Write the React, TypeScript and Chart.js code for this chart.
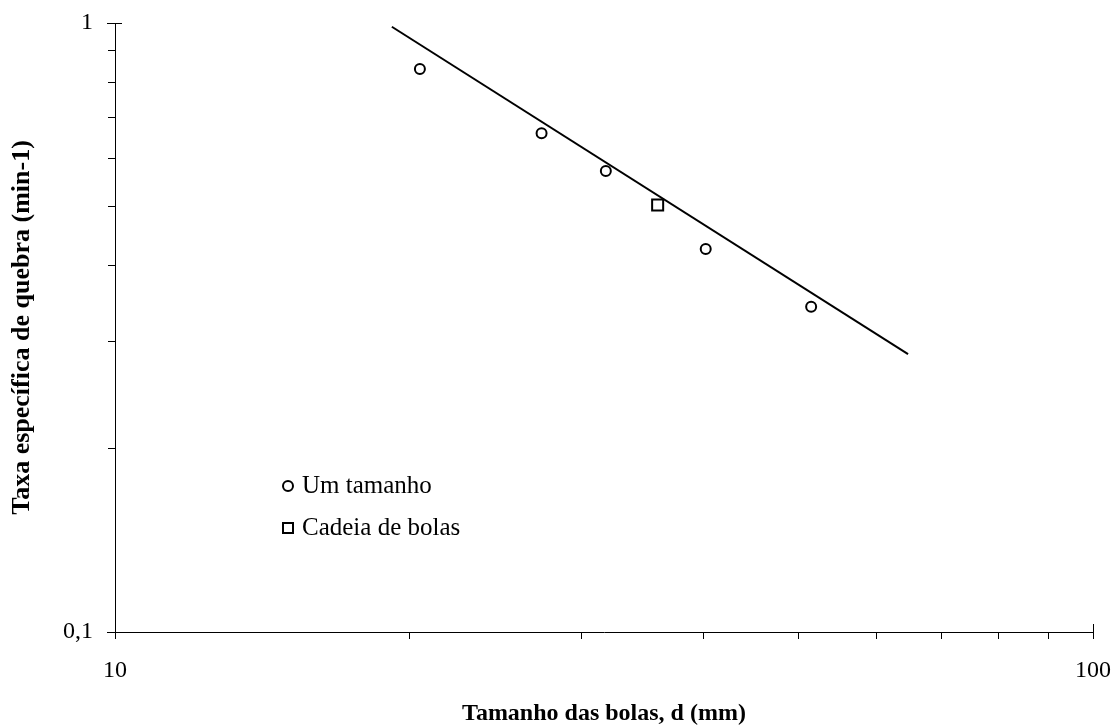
import React, { useEffect, useRef } from "react";
import { Chart, registerables } from "chart.js";

Chart.register(...registerables);

// Data (log-log)
const oneSizeDiameter = [20.5, 27.3, 31.76, 40.18, 51.5];
const oneSizeRate = [0.84, 0.659, 0.5715, 0.4254, 0.342];
const chainDiameter = [35.88];
const chainRate = [0.5027];
const fitDiameter = [19.19, 64.7];
const fitRate = [0.986, 0.286];

const xMin = 10;
const xMax = 100;
const yMin = 0.1;
const yMax = 1;
const xTickValues = [10, 20, 30, 40, 50, 60, 70, 80, 90, 100];
const yTickValues = [0.1, 0.2, 0.3, 0.4, 0.5, 0.6, 0.7, 0.8, 0.9, 1];
const xLabels: Record<string, string> = { "10": "10", "100": "100" };
const yLabels: Record<string, string> = { "0.1": "0,1", "1": "1" };

const seriesNames = ["Um tamanho", "Cadeia de bolas"];
const xTitle = "Tamanho das bolas, d (mm)";
const yTitle = "Taxa específica de quebra (min-1)";

const FONT = "'Liberation Serif', 'Times New Roman', serif";

const majorTicksPlugin = {
  id: "majorTicks",
  afterDraw(chart: any) {
    const { ctx, chartArea, scales } = chart;
    ctx.save();
    ctx.strokeStyle = "#000";
    ctx.lineWidth = 1;
    [xMin, xMax].forEach((v) => {
      const px = Math.round(scales.x.getPixelForValue(v)) + 0.5;
      ctx.beginPath();
      ctx.moveTo(px, chartArea.bottom - 8);
      ctx.lineTo(px, chartArea.bottom + 7);
      ctx.stroke();
    });
    [yMin, yMax].forEach((v) => {
      const py = Math.round(scales.y.getPixelForValue(v)) + 0.5;
      ctx.beginPath();
      ctx.moveTo(chartArea.left - 8, py);
      ctx.lineTo(chartArea.left + 7, py);
      ctx.stroke();
    });
    ctx.restore();
  },
};

const innerLegendPlugin = {
  id: "innerLegend",
  afterDatasetsDraw(chart: any) {
    const { ctx, chartArea } = chart;
    const mx = chartArea.left + 173;
    const y0 = chartArea.top + 463;
    const gap = 42;
    ctx.save();
    ctx.strokeStyle = "#000";
    ctx.fillStyle = "#fff";
    ctx.lineWidth = 2;
    ctx.beginPath();
    ctx.arc(mx, y0, 5, 0, Math.PI * 2);
    ctx.fill();
    ctx.stroke();
    ctx.beginPath();
    ctx.rect(mx - 5, y0 + gap - 5, 10, 10);
    ctx.fill();
    ctx.stroke();
    ctx.fillStyle = "#000";
    ctx.font = `25px ${FONT}`;
    ctx.textBaseline = "middle";
    ctx.textAlign = "left";
    ctx.fillText(seriesNames[0], mx + 14, y0);
    ctx.fillText(seriesNames[1], mx + 14, y0 + gap);
    ctx.restore();
  },
};

const keyOf = (v: any) => String(Math.round(Number(v) * 1000) / 1000);

export default function App() {
  const canvasRef = useRef<HTMLCanvasElement | null>(null);

  useEffect(() => {
    if (!canvasRef.current) return;
    const chart = new Chart(canvasRef.current, {
      type: "scatter",
      data: {
        datasets: [
          {
            label: seriesNames[0],
            data: oneSizeDiameter.map((d, i) => ({ x: d, y: oneSizeRate[i] })),
            pointStyle: "circle",
            pointRadius: 5,
            pointBorderWidth: 2,
            pointBackgroundColor: "#fff",
            pointBorderColor: "#000",
            showLine: false,
          },
          {
            label: seriesNames[1],
            data: chainDiameter.map((d, i) => ({ x: d, y: chainRate[i] })),
            pointStyle: "rect",
            pointRadius: 7.8,
            pointBorderWidth: 2,
            pointBackgroundColor: "#fff",
            pointBorderColor: "#000",
            showLine: false,
          },
          {
            label: "fit",
            data: fitDiameter.map((d, i) => ({ x: d, y: fitRate[i] })),
            showLine: true,
            borderColor: "#000",
            borderWidth: 2,
            pointRadius: 0,
            fill: false,
          },
        ],
      },
      options: {
        responsive: false,
        animation: false,
        layout: { padding: { top: 23, right: 23, left: 0, bottom: 0 } },
        plugins: {
          legend: { display: false },
          tooltip: { enabled: false },
        },
        scales: {
          x: {
            type: "logarithmic",
            min: xMin,
            max: xMax,
            afterBuildTicks: (s: any) => {
              s.ticks = xTickValues.map((v) => ({ value: v, major: v === 10 || v === 100 }));
            },
            afterFit: (s: any) => {
              s.height = 94;
              s.paddingLeft = 0;
              s.paddingRight = 0;
            },
            border: { display: true, color: "#000", width: 1 },
            grid: {
              drawOnChartArea: false,
              drawTicks: true,
              tickLength: 7,
              color: "#000",
              tickColor: "#000",
            },
            ticks: {
              autoSkip: false,
              maxRotation: 0,
              padding: 20,
              color: "#000",
              font: { family: FONT, size: 24, lineHeight: 1 },
              callback: (v: any) => xLabels[keyOf(v)] ?? "",
            },
            title: {
              display: true,
              text: xTitle,
              color: "#000",
              font: { family: FONT, size: 24, weight: "bold", lineHeight: 1 },
              padding: { top: 0, bottom: 0 },
            },
          },
          y: {
            type: "logarithmic",
            min: yMin,
            max: yMax,
            afterBuildTicks: (s: any) => {
              s.ticks = yTickValues.map((v) => ({ value: v, major: v === 0.1 || v === 1 }));
            },
            afterFit: (s: any) => {
              s.width = 115;
              s.paddingTop = 0;
              s.paddingBottom = 0;
            },
            border: { display: true, color: "#000", width: 1 },
            grid: {
              drawOnChartArea: false,
              drawTicks: true,
              tickLength: 7,
              color: "#000",
              tickColor: "#000",
            },
            ticks: {
              autoSkip: false,
              padding: 15,
              color: "#000",
              font: { family: FONT, size: 24, lineHeight: 1 },
              callback: (v: any) => yLabels[keyOf(v)] ?? "",
            },
            title: {
              display: true,
              text: yTitle,
              color: "#000",
              font: { family: FONT, size: 26, weight: "bold", lineHeight: 1 },
              padding: { top: 9, bottom: 0 },
            },
          },
        },
      },
      plugins: [majorTicksPlugin, innerLegendPlugin],
    });
    return () => chart.destroy();
  }, []);

  return (
    <div style={{ position: "absolute", left: 0, top: 0, width: 1116, height: 726, background: "#fff" }}>
      <canvas ref={canvasRef} width={1116} height={726} style={{ display: "block" }} />
    </div>
  );
}
